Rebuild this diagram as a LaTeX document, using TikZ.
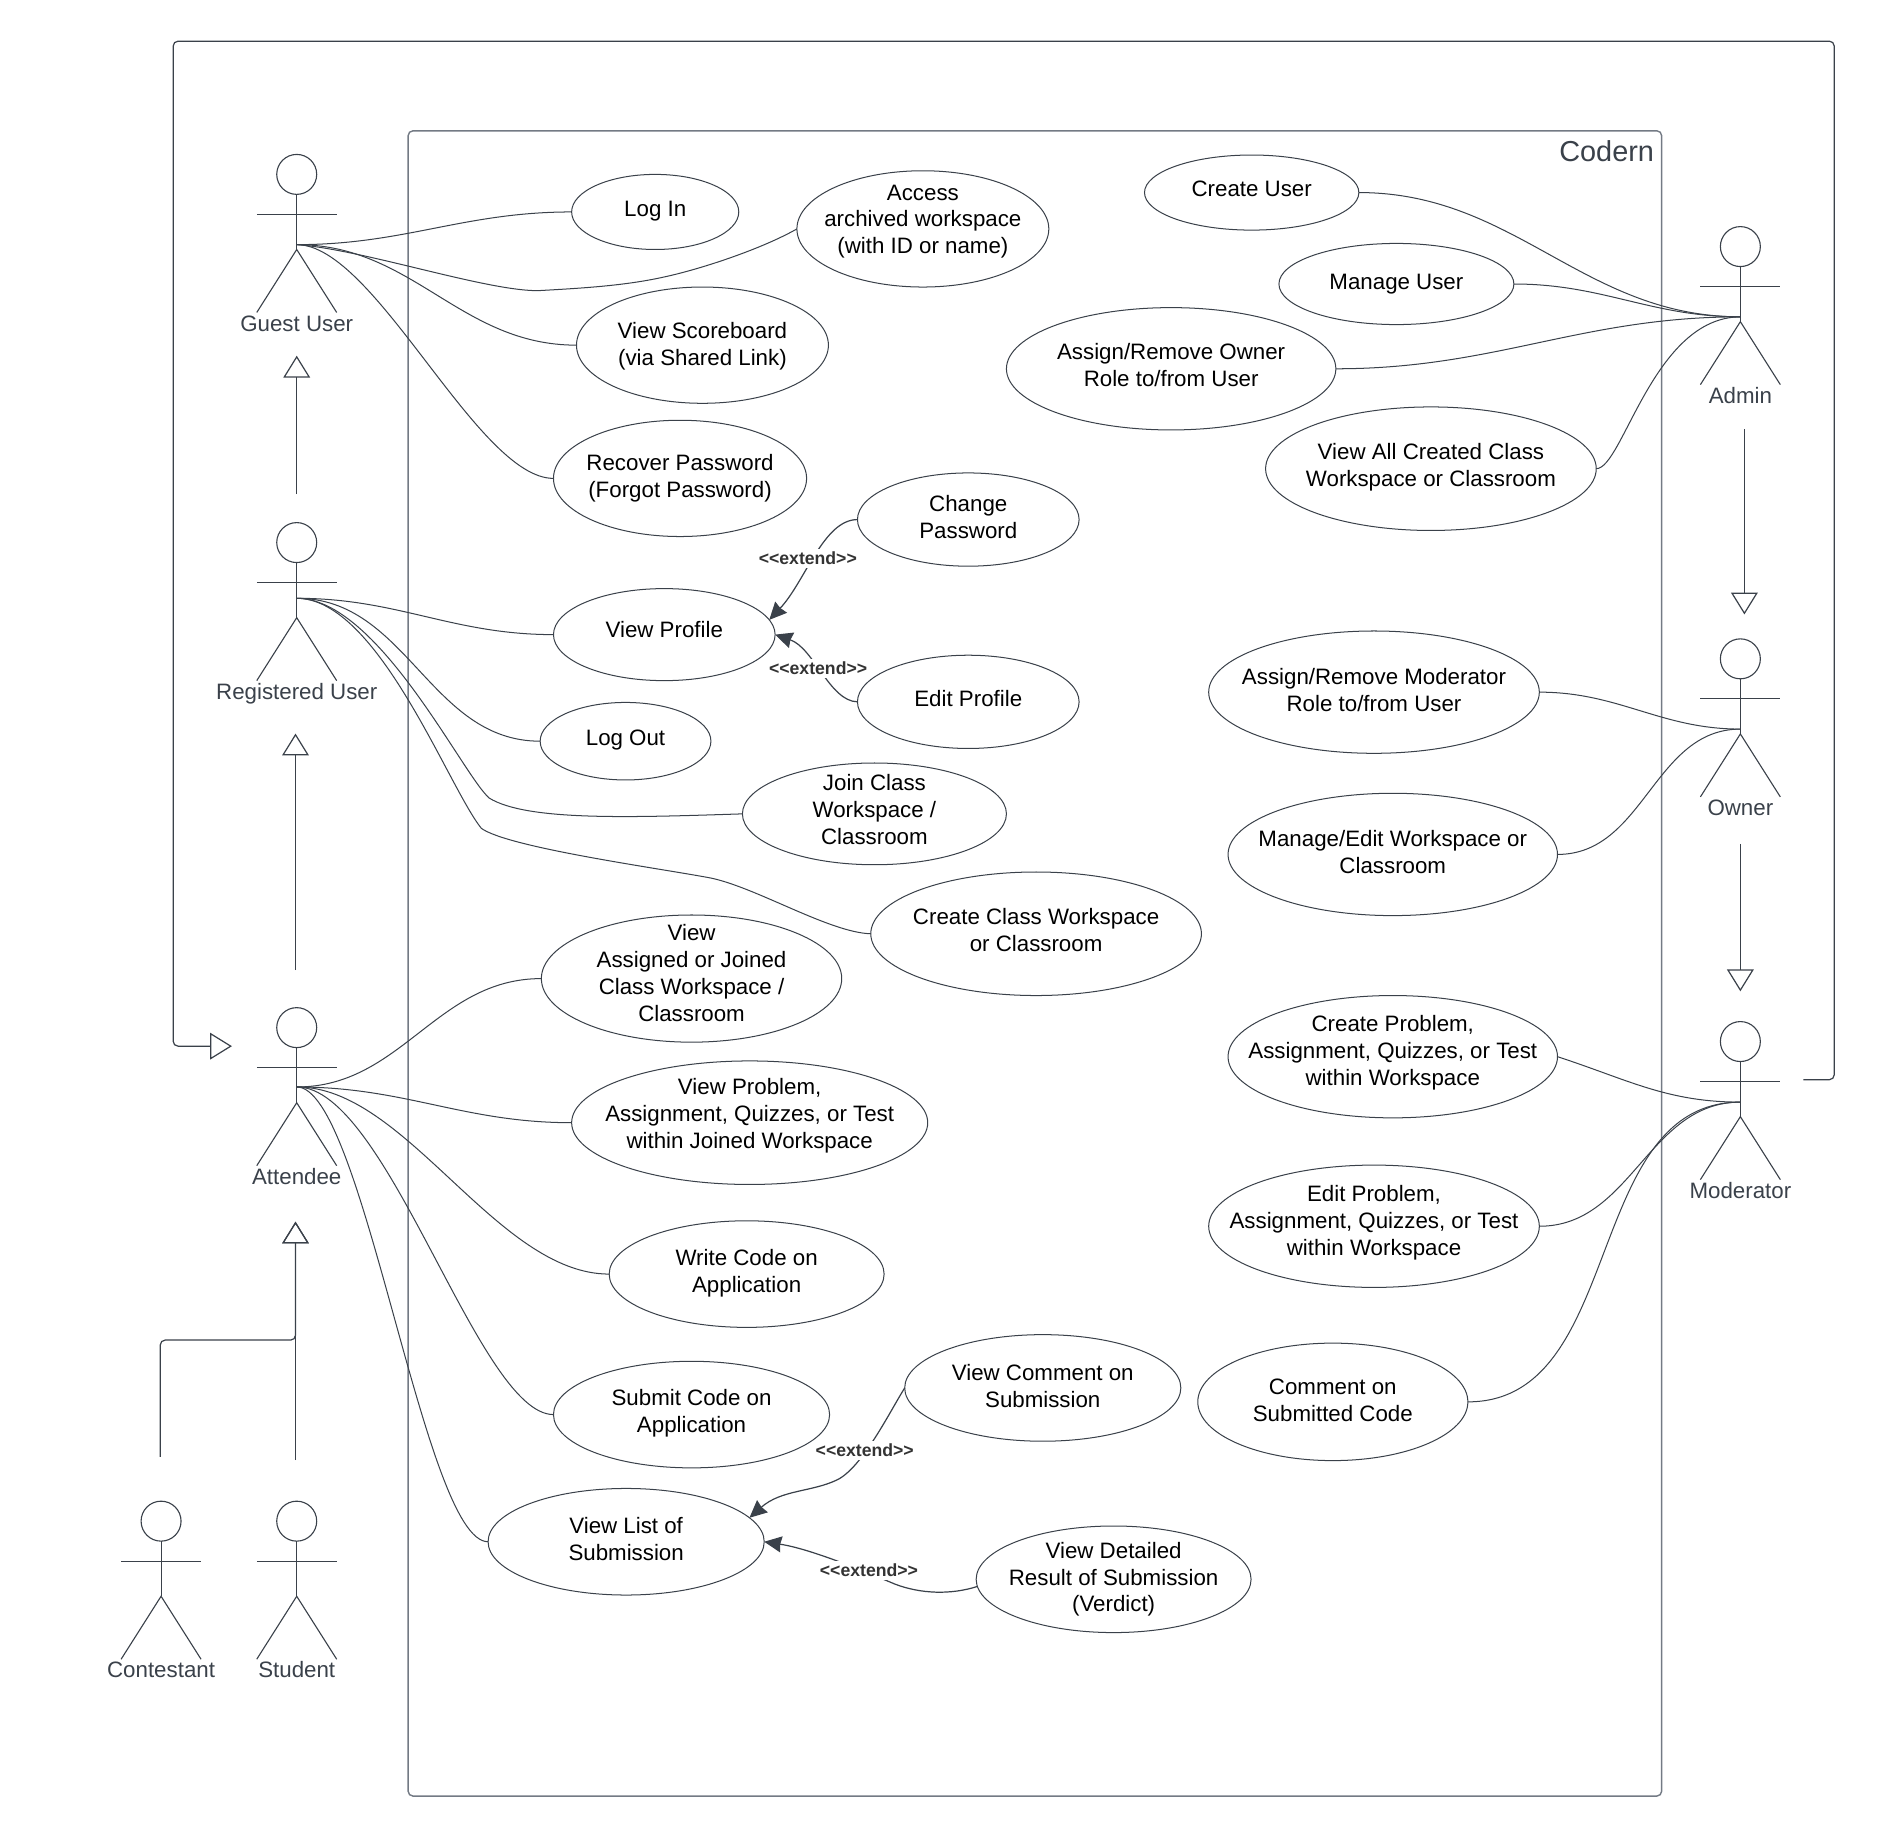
\documentclass[tikz,border=0pt]{standalone}
\usepackage{fontspec}
\usepackage{xcolor}
\usepackage{tikz}
\usetikzlibrary{shapes,arrows.meta,positioning}
\setmainfont{Liberation Sans}
\newfontfamily\extendfont{Liberation Sans}
\definecolor{inkgray}{HTML}{3A414A}
\definecolor{framegray}{HTML}{737A84}

\newcommand{\stickactor}[5]{
    \node [actorhead] (#1) at (#2,#3) {};
    \node [actorname] (#1label) at (#2,#3+124.7) {#4};
    \coordinate (#1hip) at (#2,#3+62);
    \coordinate (#1port) at (#2,#3+#5);
    \draw [actorline] (#1.south) -- (#1hip);
    \draw [actorline] (#2-33,#3+33) -- (#2+33,#3+33);
    \draw [actorline] (#2-33,#3+114) -- (#1hip) -- (#2+33,#3+114);
}

\begin{document}
\begin{tikzpicture}[x=0.6pt, y=-0.6pt,
    usecase/.style 2 args={ellipse, draw=inkgray, line width=0.5pt, minimum width=#1*0.6pt, minimum height=#2*0.6pt, inner sep=-20pt, outer sep=0pt, align=center, font=\fontsize{11.05}{13.33}\selectfont},
    actorhead/.style={circle, draw=inkgray, line width=0.55pt, minimum size=19.8pt, inner sep=0pt, outer sep=0pt},
    actorname/.style={inner sep=0pt, text=inkgray, text height=8pt, text depth=2.4pt, font=\fontsize{11.05}{13.33}\selectfont},
    actorline/.style={draw=inkgray, line width=0.55pt},
    assoc/.style={draw=inkgray, line width=0.5pt},
    sbend/.style={out=0, in=180},
    inherit/.style={draw=inkgray, line width=0.6pt, -{Triangle[open,length=10.8pt,width=13.2pt]}},
    extends/.style={draw=inkgray, line width=0.6pt, -{Stealth[length=8.6pt,width=8pt,inset=0.6pt]}},
    extendlabel/.style={fill=white, inner xsep=1pt, inner ysep=1.6pt, text=black!80, font=\extendfont\fontsize{8.74}{10}\selectfont\bfseries}]

    \useasboundingbox (0,0) rectangle (1568,1516);

    \draw [draw=framegray, line width=0.7pt, rounded corners=2.4pt] (337,108) rectangle (1372,1483);
    \node [anchor=east, inner sep=0pt, text=inkgray, font=\fontsize{14.3}{16}\selectfont] (codern) at (1366,124.5) {Codern};

    \stickactor{guest}{245}{144}{Guest User}{58}
    \stickactor{registered}{245}{448}{Registered User}{46}
    \stickactor{attendee}{245}{848.5}{Attendee}{49}
    \stickactor{contestant}{133}{1256}{Contestant}{49}
    \stickactor{student}{245}{1256}{Student}{49}
    \stickactor{admin}{1437}{203.6}{Admin}{58}
    \stickactor{owner}{1437}{544}{Owner}{58}
    \stickactor{moderator}{1437}{860}{Moderator}{50}

    \node [usecase={138}{62}, text depth=3.5pt] (login) at (541,175) {Log In};
    \node [usecase={208}{96}, text depth=9.5pt] (archived) at (762,189) {Access\\archived workspace\\(with ID or name)};
    \node [usecase={208}{96}, text depth=1.1pt] (scoreboard) at (580,285) {View Scoreboard\\(via Shared Link)};
    \node [usecase={209}{96}] (recover) at (561.5,395) {Recover Password\\(Forgot Password)};
    \node [usecase={183}{77}, text depth=2.4pt] (change) at (799.5,429) {Change\\Password};
    \node [usecase={183}{76}, text depth=4.8pt] (profile) at (548.5,524) {View Profile};
    \node [usecase={183}{77}, text depth=3.6pt] (edit) at (799.5,579.5) {Edit Profile};
    \node [usecase={141}{64}, text depth=3.5pt] (logout) at (516.5,612) {Log Out};
    \node [usecase={218}{84}, text depth=4.8pt] (join) at (722,672) {Join Class\\Workspace /\\Classroom};
    \node [usecase={273}{102}, text depth=3.6pt] (createclass) at (855.5,771) {Create Class Workspace\\or Classroom};
    \node [usecase={248}{105}, text depth=5.4pt] (assigned) at (571,808) {View\\Assigned or Joined\\Class Workspace /\\Classroom};
    \node [usecase={294}{102}, text depth=9.5pt] (viewproblem) at (619,927) {View Problem,\\Assignment, Quizzes, or Test\\within Joined Workspace};
    \node [usecase={227}{88}, text depth=3.5pt] (writecode) at (616.5,1052) {Write Code on\\Application};
    \node [usecase={228}{88}, text depth=3.5pt] (submitcode) at (571,1168) {Submit Code on\\Application};
    \node [usecase={228}{88}, text depth=2.4pt] (viewlist) at (517,1273) {View List of\\Submission};
    \node [usecase={228}{88}, text depth=2.4pt] (viewcomment) at (861,1146) {View Comment on\\Submission};
    \node [usecase={227}{88}] (detailed) at (919.5,1304) {View Detailed\\Result of Submission\\(Verdict)};
    \node [usecase={177}{62}, text depth=3.6pt] (createuser) at (1033.5,159) {Create User};
    \node [usecase={194}{67}] (manageuser) at (1153,234.5) {Manage User};
    \node [usecase={272}{101}, text depth=3.8pt] (assignowner) at (967,304.5) {Assign/Remove Owner\\Role to/from User};
    \node [usecase={273}{102}, text depth=3.5pt] (viewall) at (1181.5,387) {View All Created Class\\Workspace or Classroom};
    \node [usecase={273}{101}, text depth=2.6pt] (assignmod) at (1134.5,571.5) {Assign/Remove Moderator\\Role to/from User};
    \node [usecase={272}{101}, text depth=2.4pt] (manageedit) at (1150,705.5) {Manage/Edit Workspace or\\Classroom};
    \node [usecase={272}{101}, text depth=5.9pt] (createproblem) at (1150,872.5) {Create Problem,\\Assignment, Quizzes, or Test\\within Workspace};
    \node [usecase={273}{101}, text depth=5.9pt] (editproblem) at (1134.5,1012.5) {Edit Problem,\\Assignment, Quizzes, or Test\\within Workspace};
    \node [usecase={223}{97}, text depth=1.8pt] (commentcode) at (1100.5,1157.5) {Comment on\\Submitted Code};

    \draw [assoc] (guestport) to[sbend] (login.west);
    \draw [assoc] (guestport) .. controls (300,206) and (400,240) .. (444,240) .. controls (480,238) and (515,236) .. (547,229) .. controls (580,222) and (630,205) .. (archived.west);
    \draw [assoc] (guestport) to[sbend] (scoreboard.west);
    \draw [assoc] (guestport) .. controls (310,202) and (394,395) .. (recover.west);

    \draw [assoc] (registeredport) to[sbend] (profile.west);
    \draw [assoc] (registeredport) to[sbend] (logout.west);
    \draw [assoc] (registeredport) .. controls (312,494) and (382,640) .. (404,659) .. controls (435,678) and (520,675) .. (join.west);
    \draw [assoc] (registeredport) .. controls (312,494) and (370,650) .. (397.5,684) .. controls (420,700) and (545,717) .. (587,725) .. controls (625,733) and (685,770) .. (createclass.west);

    \draw [assoc] (attendeeport) to[sbend] (assigned.west);
    \draw [assoc] (attendeeport) to[sbend] (viewproblem.west);
    \draw [assoc] (attendeeport) .. controls (335,897) and (410,1052) .. (writecode.west);
    \draw [assoc] (attendeeport) .. controls (320,897) and (395,1168) .. (submitcode.west);
    \draw [assoc] (attendeeport) .. controls (300,897) and (350,1273) .. (viewlist.west);

    \draw [assoc] (createuser.east) to[sbend] (adminport);
    \draw [assoc] (manageuser.east) to[sbend] (adminport);
    \draw [assoc] (assignowner.east) to[sbend] (adminport);
    \draw [assoc] (viewall.east) .. controls (1340,387) and (1365,262) .. (adminport);
    \draw [assoc] (assignmod.east) to[sbend] (ownerport);
    \draw [assoc] (manageedit.east) to[sbend] (ownerport);
    \draw [assoc] (createproblem.east) to[out=-18, in=180] (moderatorport);
    \draw [assoc] (editproblem.east) to[sbend] (moderatorport);
    \draw [assoc] (commentcode.east) to[sbend] (moderatorport);

    \draw [extends] (change.west) .. controls (680,429) and (665,480) .. (profile.8);
    \draw [extends] (edit.west) .. controls (685,579) and (672,535) .. (profile.east);
    \draw [extends] (viewcomment.west) .. controls (735,1165) and (712,1212) .. (691,1222) .. controls (670,1232) and (645,1230) .. (viewlist.11);
    \draw [extends] (detailed.183) .. controls (785,1317) and (760,1316) .. (739,1308) .. controls (715,1298) and (670,1279) .. (viewlist.east);
    \node [extendlabel] (changelabel) at (667,461) {<<extend>>};
    \node [extendlabel] (editlabel) at (675.5,552) {<<extend>>};
    \node [extendlabel] (commentlabel) at (714,1197.5) {<<extend>>};
    \node [extendlabel] (detailedlabel) at (717.5,1296.5) {<<extend>>};

    \coordinate (branch) at (244,1106.5);
    \coordinate (moderatorexit) at (1489,891.5);
    \coordinate (attendeeentry) at (191.5,863.8);
    \draw [inherit, shorten <=14.1pt, shorten >=9.6pt] (registered.north) -- (guestlabel.south);
    \draw [inherit, shorten <=18.6pt, shorten >=14.4pt] ([xshift=-0.6pt]attendee.north) -- ([xshift=-0.6pt]registeredlabel.south);
    \draw [inherit, shorten <=20.3pt, shorten >=15.9pt] ([xshift=-0.6pt]student.north) -- ([xshift=-0.6pt]attendeelabel.south);
    \draw [inherit, rounded corners=2.4pt, shorten <=22pt, shorten >=15.9pt] ([xshift=-0.4pt]contestant.north) -- ([xshift=-0.4pt]contestant.north |- branch) -- (branch) -- ([xshift=-0.6pt]attendeelabel.south);
    \draw [inherit, shorten <=10.2pt, shorten >=12.1pt] ([xshift=2pt]adminlabel.south) -- ([xshift=2pt]owner.north);
    \draw [inherit, shorten <=11.4pt, shorten >=15pt] (ownerlabel.south) -- (moderator.north);
    \draw [inherit, rounded corners=2.4pt] (moderatorexit) -- (1514.5,891.5) -- (1514.5,34) -- (143,34) -- (143,863.8) -- (attendeeentry);
\end{tikzpicture}
\end{document}
